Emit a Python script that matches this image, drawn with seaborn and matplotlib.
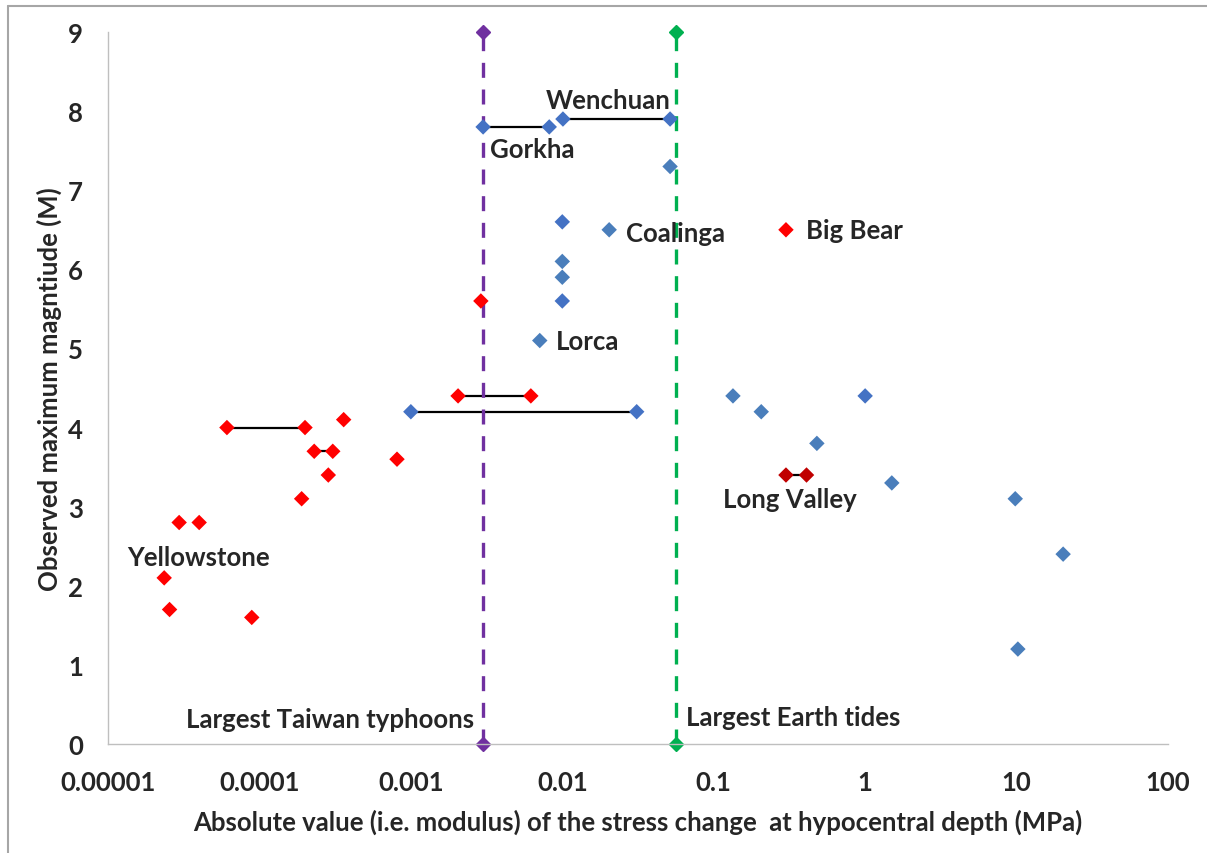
#!/usr/bin/env python3

import numpy as np
import pandas as pd
import seaborn as sns
from matplotlib import pyplot as plt
from matplotlib.lines import Line2D

# red points (stress change MPa, magnitude)
red_x = [2.35e-5, 2.55e-5, 2.95e-5, 4.0e-5, 8.9e-5, 6.1e-5, 2.0e-4, 2.3e-4, 3.05e-4,
         2.85e-4, 1.9e-4, 3.6e-4, 8.1e-4, 2.9e-3, 2.05e-3, 6.2e-3, 0.3]
red_y = [2.1, 1.7, 2.8, 2.8, 1.6, 4.0, 4.0, 3.7, 3.7, 3.4, 3.1, 4.1, 3.6, 5.6, 4.4, 4.4, 6.5]

# dark red (Long Valley)
dred_x = [0.3, 0.41]
dred_y = [3.4, 3.4]

# bright blue points
blue_x = [0.003, 0.0082, 0.0101, 0.0515, 0.01, 0.01, 0.001, 0.031, 1.0]
blue_y = [7.8, 7.8, 7.9, 7.9, 6.6, 5.6, 4.2, 4.2, 4.4]

# steel blue points
sblue_x = [0.0515, 0.0204, 0.01, 0.01, 0.0071, 0.134, 0.206, 0.48, 1.5, 9.8, 20.3, 10.2]
sblue_y = [7.3, 6.5, 6.1, 5.9, 5.1, 4.4, 4.2, 3.8, 3.3, 3.1, 2.4, 1.2]

# connected pairs (x1, x2, y)
pairs = [(0.003, 0.0082, 7.8), (0.0101, 0.0515, 7.9), (0.001, 0.031, 4.2),
         (2.05e-3, 6.2e-3, 4.4), (6.1e-5, 2.0e-4, 4.0), (2.3e-4, 3.05e-4, 3.7),
         (0.3, 0.41, 3.4)]

typhoon_x = 0.003
tides_x = 0.056

labels = [("Wenchuan", 0.0078, 8.14), ("Gorkha", 0.00333, 7.52), ("Coalinga", 0.0264, 6.46),
          ("Big Bear", 0.407, 6.5), ("Lorca", 0.0091, 5.09), ("Long Valley", 0.1155, 3.10),
          ("Yellowstone", 1.335e-5, 2.36), ("Largest Taiwan typhoons", 3.27e-5, 0.32),
          ("Largest Earth tides", 0.0658, 0.34)]

xticks = [1e-5, 1e-4, 1e-3, 1e-2, 1e-1, 1, 10, 100]
xticklabels = ["0.00001", "0.0001", "0.001", "0.01", "0.1", "1", "10", "100"]

fs = 18.5

sns.set_style("white")
plt.rcParams['font.family'] = ['Lato', 'DejaVu Sans']
plt.rcParams['font.weight'] = 'bold'

fig = plt.figure(figsize=(12.07, 8.54), dpi=100)
ax = fig.add_axes([108/1207, 1-745/854, (1168-108)/1207, (745-33)/854])

df = pd.DataFrame({
    'x': red_x + dred_x + blue_x + sblue_x,
    'y': red_y + dred_y + blue_y + sblue_y,
    'grp': ['red']*len(red_x) + ['dred']*len(dred_x) + ['blue']*len(blue_x) + ['sblue']*len(sblue_x),
})
pal = {'red': '#FF0000', 'dred': '#C00000', 'blue': '#4472C4', 'sblue': '#4A7EBB'}

for x1, x2, yy in pairs:
    ax.plot([x1, x2], [yy, yy], color='black', lw=1.6, zorder=1)

ax.plot([typhoon_x, typhoon_x], [0, 9], color='#7030A0', lw=2.4, ls=(0, (4.5, 3.5)),
        marker='D', ms=7, zorder=2, clip_on=False)
ax.plot([tides_x, tides_x], [0, 9], color='#00B050', lw=2.4, ls=(0, (4.5, 3.5)),
        marker='D', ms=7, zorder=2, clip_on=False)

sns.scatterplot(data=df, x='x', y='y', hue='grp', palette=pal, marker='D', s=62,
                linewidth=0, legend=False, ax=ax, zorder=3, clip_on=False)

for txt, tx, ty in labels:
    ax.text(tx, ty, txt, ha='left', va='center', fontsize=fs, fontweight='bold')

ax.set_xscale('log')
ax.set_xlim(1e-5, 100)
ax.set_ylim(0, 9)
ax.set_xticks(xticks)
ax.set_xticklabels(xticklabels)
ax.minorticks_off()
ax.set_yticks(range(10))

sns.despine(ax=ax)
for s in ['left', 'bottom']:
    ax.spines[s].set_color('#BFBFBF')
    ax.spines[s].set_linewidth(1.0)
ax.tick_params(axis='both', which='major', direction='out', length=6, width=1,
               color='#BFBFBF', labelsize=fs, pad=12)
ax.tick_params(axis='x', pad=13)
for lab in ax.get_xticklabels() + ax.get_yticklabels():
    lab.set_fontweight('bold')

ax.set_xlabel('Absolute value (i.e. modulus) of the stress change  at hypocentral depth (MPa)',
              fontsize=fs, fontweight='bold', labelpad=10)
ax.set_ylabel('Observed maximum magntiude (M)', fontsize=fs, fontweight='bold', labelpad=4)

# border lines of the original frame (top and left)
fig.add_artist(Line2D([8/1207, 8/1207], [0, 1-7/854], color='#A6A6A6', lw=1.5))
fig.add_artist(Line2D([8/1207, 1], [1-7/854, 1-7/854], color='#A6A6A6', lw=1.5))

plt.savefig('out.png', dpi=100)
